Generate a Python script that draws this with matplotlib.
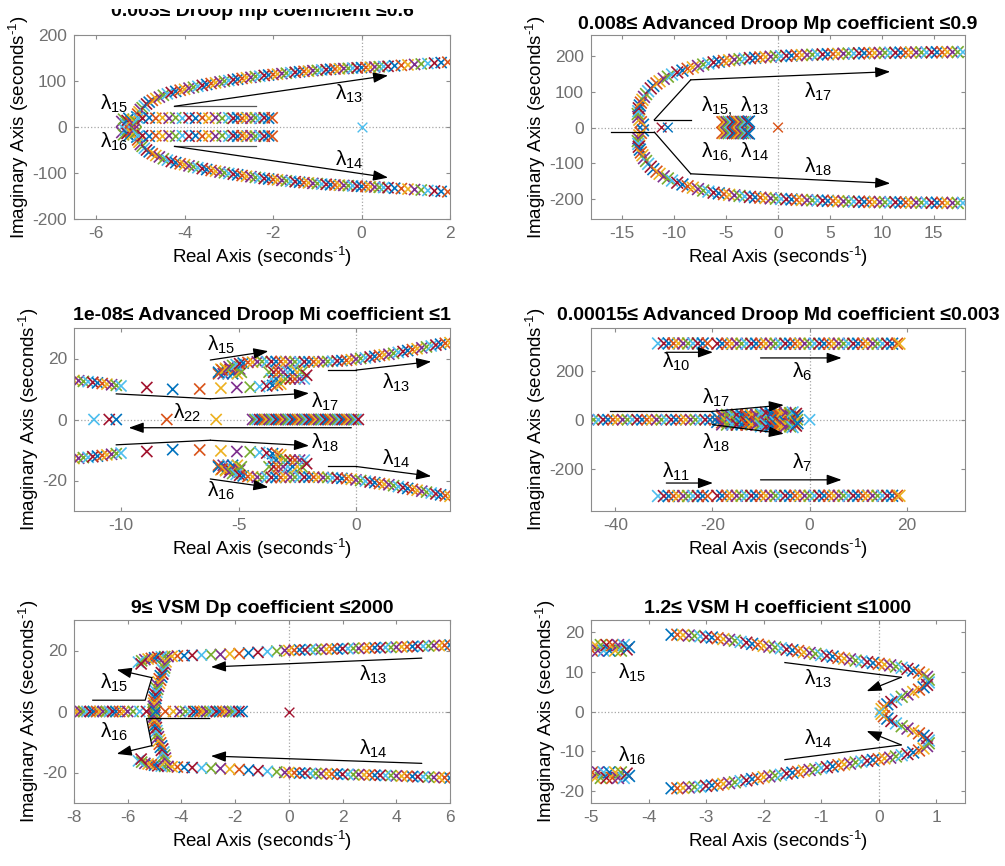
"""Root locus sweeps for droop / advanced droop / VSM controller coefficients"""

import numpy as np
import matplotlib
matplotlib.use('Agg')
import matplotlib.pyplot as plt
from matplotlib.patches import Rectangle

plt.rcParams['font.family'] = ['Liberation Sans', 'DejaVu Sans']
plt.rcParams['axes.unicode_minus'] = False
plt.rcParams['mathtext.fontset'] = 'custom'
plt.rcParams['mathtext.rm'] = 'Liberation Sans'
plt.rcParams['mathtext.it'] = 'Liberation Sans:italic'
plt.rcParams['mathtext.bf'] = 'Liberation Sans:bold'

# MATLAB default colour order, one colour per gain step
MCOL = ['#0072BD', '#D95319', '#EDB120', '#7E2F8E', '#77AC30', '#4DBEEE', '#A2142F']
TICK_GREY = '#707070'
EDGE_GREY = '#8c8c8c'

#####################################################################
#                 data (re, im)
#####################################################################

# ---- panel 1 : Droop mp
P1_L13 = [(-5.08, 22), (-5.06, 28), (-5.03, 33), (-5.0, 38), (-4.96, 42), (-4.91, 46), (-4.86, 50),
          (-4.8, 54), (-4.73, 58), (-4.65, 62), (-4.57, 65), (-4.48, 69), (-4.39, 72), (-4.3, 75),
          (-4.2, 77.5), (-4.1, 80), (-4.0, 82), (-3.9, 84.5), (-3.8, 86.5), (-3.7, 88.5), (-3.6, 90.5),
          (-3.5, 92.5), (-3.4, 94.5), (-3.3, 96), (-3.2, 98), (-3.1, 99.5), (-3.0, 101), (-2.9, 102.5),
          (-2.8, 104), (-2.7, 105.5), (-2.6, 107), (-2.5, 108), (-2.4, 109.5), (-2.3, 110.5), (-2.2, 112),
          (-2.1, 113), (-2.0, 114), (-1.9, 115), (-1.8, 116), (-1.7, 117), (-1.6, 118), (-1.5, 119),
          (-1.4, 120), (-1.3, 121), (-1.2, 121.5), (-1.1, 122.5), (-1.0, 123), (-0.9, 124), (-0.8, 124.5),
          (-0.7, 125.5), (-0.6, 126), (-0.5, 126.5), (-0.4, 127), (-0.3, 127.5), (-0.2, 128), (-0.1, 128.5),
          (0.0, 129), (0.1, 129.5), (0.2, 130), (0.3, 130.5), (0.4, 131), (0.5, 131.5), (0.6, 132),
          (0.75, 133), (0.9, 134), (1.05, 135), (1.2, 136), (1.35, 137), (1.5, 138), (1.65, 139),
          (1.8, 140), (1.95, 141)]
P1_L15 = [(-5.42, 12), (-5.38, 17), (-5.34, 7), (-5.3, 14), (-5.26, 19), (-5.22, 10), (-5.18, 16),
          (-5.14, 5), (-5.1, 12), (-5.05, 19), (-4.95, 19), (-4.8, 20), (-4.65, 19), (-4.5, 20),
          (-4.35, 19), (-4.2, 20), (-4.05, 19), (-3.9, 20), (-3.75, 19), (-3.6, 20), (-3.45, 19),
          (-3.3, 20), (-3.15, 19), (-3.0, 20), (-2.9, 19), (-2.8, 20), (-2.7, 19), (-2.6, 20),
          (-2.5, 19), (-2.4, 20), (-2.3, 19), (-2.2, 20), (-2.1, 19), (-2.02, 20)]
P1_ORIGIN = [(0.0, 0.0)]

# ---- panel 2 : Advanced droop Mp
P2_L17 = [(-13.0, 8), (-13.2, 15), (-13.35, 22), (-13.45, 30), (-13.5, 38), (-13.45, 46), (-13.4, 54),
          (-13.3, 62), (-13.2, 70), (-13.05, 78), (-12.9, 86), (-12.7, 94), (-12.5, 102), (-12.25, 110),
          (-12.0, 117), (-11.7, 124), (-11.4, 130), (-11.0, 137), (-10.6, 143), (-10.2, 149), (-9.7, 155),
          (-9.2, 160), (-8.7, 165), (-8.2, 169), (-7.7, 173), (-7.2, 177), (-6.7, 180), (-6.2, 183),
          (-5.7, 185), (-5.2, 187), (-4.7, 189), (-4.2, 190.5), (-3.7, 192), (-3.2, 193.5), (-2.7, 195),
          (-2.2, 196), (-1.7, 197), (-1.2, 198), (-0.7, 199), (-0.2, 200), (0.3, 200.5), (0.8, 201.5),
          (1.3, 202), (1.8, 203), (2.3, 203.5), (2.8, 204), (3.3, 204.5), (3.8, 205), (4.3, 205.5),
          (4.8, 206), (5.3, 206.5), (5.8, 207), (6.3, 207.5), (6.8, 208), (7.3, 208), (7.8, 208.5),
          (8.3, 209), (8.8, 209), (9.3, 209.5), (9.8, 209.5), (10.3, 210), (10.8, 210), (11.3, 210),
          (11.8, 210.5), (12.3, 210.5), (12.8, 211), (13.3, 211), (13.8, 211), (14.3, 211), (14.8, 211.5),
          (15.3, 211.5), (15.8, 211.5), (16.3, 212), (16.8, 212), (17.3, 212), (17.8, 212)]
P2_L15 = [(-5.35, 15), (-5.15, 16), (-4.95, 15), (-4.75, 16), (-4.55, 15), (-4.35, 16), (-4.15, 15),
          (-3.95, 16), (-3.75, 15), (-3.55, 16), (-3.35, 15), (-3.15, 16), (-2.95, 15), (-2.8, 17)]
P2_REAL = [(-11.2, 0.0), (-10.6, 0.0), (0.0, 0.0)]

# ---- panel 3 : Advanced droop Mi
P3_L13 = [(-5.85, 15.5), (-5.7, 16.2), (-5.55, 16.8), (-5.4, 17.3), (-5.25, 17.7), (-5.1, 18.0),
          (-4.95, 18.3), (-4.8, 18.5), (-4.6, 18.7), (-4.4, 18.8), (-4.2, 18.9), (-4.0, 19.0), (-3.8, 19.0),
          (-3.6, 19.0), (-3.4, 19.0), (-3.2, 19.0), (-3.0, 19.0), (-2.8, 18.9), (-2.6, 18.9), (-2.4, 18.9),
          (-2.2, 18.9), (-2.0, 18.9), (-1.8, 18.9), (-1.6, 18.9), (-1.4, 19.0), (-1.2, 19.0), (-1.0, 19.1),
          (-0.8, 19.2), (-0.6, 19.3), (-0.4, 19.4), (-0.2, 19.6), (0.0, 19.8), (0.2, 20.0), (0.4, 20.2),
          (0.6, 20.5), (0.8, 20.7), (1.0, 21.0), (1.2, 21.2), (1.4, 21.4), (1.6, 21.7), (1.8, 22.0),
          (2.0, 22.3), (2.2, 22.6), (2.4, 22.9), (2.6, 23.2), (2.8, 23.5), (3.0, 23.8), (3.2, 24.1),
          (3.4, 24.4), (3.6, 24.7), (3.8, 25.0), (4.0, 25.2)]
P3_L15 = [(-5.85, 15.0), (-5.75, 16.5), (-5.65, 15.0), (-5.55, 16.5), (-5.45, 15.0), (-5.35, 16.5),
          (-5.25, 15.0), (-5.15, 16.5), (-5.05, 15.0), (-4.95, 16.5), (-4.88, 15.5)]
P3_L17 = [(-12.0, 12.8), (-11.8, 12.7), (-11.6, 12.5), (-11.4, 12.4), (-11.2, 12.2), (-11.0, 12.0),
          (-10.8, 11.8), (-10.6, 11.6), (-10.4, 11.4), (-10.2, 11.2), (-10.0, 11.0),
          (-8.9, 10.5), (-7.8, 9.9), (-6.65, 10.0), (-5.75, 10.3), (-5.07, 10.5), (-4.5, 10.6),
          (-4.1, 10.8), (-3.8, 11.0), (-3.55, 11.2), (-3.35, 11.4), (-3.2, 11.6)]
P3_BLOCK = [(-3.7, 15.5), (-3.6, 13.3), (-3.5, 15.5), (-3.4, 13.3), (-3.3, 15.5), (-3.2, 13.3),
            (-3.1, 15.5), (-3.0, 13.3), (-2.9, 15.5), (-2.8, 13.3), (-2.7, 15.5), (-2.6, 13.3),
            (-2.5, 15.5), (-2.4, 13.3), (-2.3, 15.5), (-2.2, 13.3), (-2.1, 14.5)]
P3_AXIS_RE = [-11.15, -10.5, -10.2, -8.05, -5.95,
              -4.4, -4.3, -4.2, -4.1, -4.0, -3.9, -3.8, -3.7, -3.6, -3.5, -3.4, -3.3, -3.2, -3.1, -3.0,
              -2.9, -2.8, -2.7, -2.6, -2.5, -2.4, -2.3, -2.2, -2.1, -2.0, -1.9, -1.8, -1.7, -1.6, -1.5,
              -1.4, -1.3, -1.2, -1.1, -1.0, -0.9, -0.8, -0.7, -0.6, -0.5, -0.4, -0.3, -0.2, -0.1, 0.0, 0.1]

# ---- panel 4 : Advanced droop Md
P4_L10 = [(-31.2, 311), (-30, 311), (-29, 311), (-28, 311), (-27, 311), (-26, 311), (-25, 311),
          (-24, 311), (-23, 311), (-22, 311), (-21, 311)]
P4_L6_RE = [-19, -18, -17, -16, -15, -14, -13, -12, -11, -10, -9, -8, -7, -6, -5, -4, -3, -2, -1, 0,
            1, 2, 3, 4, 5, 6, 7, 8, 9, 10, 11, 12, 13, 14, 15, 16, 17, 18, 18.5]
P4_L6_IM = 310
P4_AXIS_RE = [-45.5, -44.5, -43.5, -42.5, -41.5, -40.5, -39.5, -38.5, -37.5, -36.5, -35.5, -34.5,
              -33.5, -32.5, -31.5, -30.5, -29.5, -28.5, -27.5, -26.5, -25.5, -24.5, -23.5, -22.5,
              -21.5, -20.5, -19.5, -18.5, -17.5, -16.5, -15.5, -14.5, -13.5, -12.5, -11.5, -10.5,
              -9.5, -8.5, -7.5, -6.5, -5.5, -4.5, -3.5, -2.5, 0.0]
P4_BLOB = [(-19, 9), (-18, 11), (-17, 9), (-16, 11), (-15, 9), (-14, 11), (-13, 9), (-12, 11), (-11, 9),
           (-10, 11), (-9, 9), (-8, 11), (-7, 9), (-6, 11), (-5, 9), (-4, 11), (-3, 9),
           (-18, 19), (-17, 20), (-16, 19), (-15, 20), (-14, 19), (-13, 20), (-12, 19), (-11, 20),
           (-10, 19), (-9, 20), (-8, 19), (-7, 20), (-6, 19), (-5, 20), (-4, 19), (-3, 20),
           (-10, 27), (-9, 28), (-8, 27), (-7, 28), (-6, 27), (-5, 28), (-4, 27), (-3.5, 30), (-2.8, 24),
           (-2.5, 14)]

# ---- panel 5 : VSM Dp
P5_L13 = [(6.0, 21.8), (5.8, 21.7), (5.6, 21.6), (5.4, 21.6), (5.2, 21.5), (5.0, 21.4), (4.8, 21.4),
          (4.6, 21.3), (4.4, 21.2), (4.2, 21.2), (4.0, 21.1), (3.8, 21.0), (3.6, 21.0), (3.4, 20.9),
          (3.2, 20.9), (3.0, 20.8), (2.8, 20.8), (2.6, 20.7), (2.4, 20.7), (2.2, 20.6), (2.0, 20.6),
          (1.8, 20.5), (1.6, 20.5), (1.4, 20.4), (1.2, 20.4), (1.0, 20.3), (0.8, 20.3), (0.6, 20.2),
          (0.4, 20.2), (0.2, 20.1), (0.0, 20.0), (-0.15, 20.0),
          (-0.45, 19.8), (-0.8, 19.6), (-1.15, 19.4), (-1.5, 19.2), (-1.85, 19.0), (-2.2, 18.9),
          (-2.55, 18.7), (-2.9, 18.6), (-3.25, 18.5), (-3.6, 18.4), (-3.9, 18.3), (-4.15, 18.2),
          (-4.35, 18.1), (-4.5, 18.0), (-4.62, 18.0), (-4.75, 17.9), (-4.88, 17.8), (-5.0, 17.6),
          (-5.12, 17.4), (-5.24, 17.2), (-5.36, 17.0), (-5.48, 16.6), (-5.6, 16.2), (-5.5, 15.6)]
P5_ARC = [(-4.6, 16.5), (-4.62, 15.5), (-4.65, 14.5), (-4.68, 13.5), (-4.72, 12.5), (-4.76, 11.5),
          (-4.8, 10.5), (-4.84, 9.5), (-4.88, 8.5), (-4.91, 7.5), (-4.94, 6.5), (-4.96, 5.5),
          (-4.98, 4.5), (-5.0, 3.5), (-5.01, 2.5), (-5.02, 1.5), (-5.03, 0.5)]
P5_AXIS_RE = [-8.0, -7.88, -7.76, -7.64, -7.52, -7.4, -7.28, -7.16, -7.04, -6.92, -6.8, -6.68, -6.56,
              -6.44, -6.3, -6.15, -6.0, -5.8, -5.55, -5.3, -4.95, -4.6, -4.3, -4.05, -3.85, -3.68,
              -3.54, -3.42, -3.3, -3.18, -3.06, -2.94, -2.82, -2.7, -2.58, -2.46, -2.34, -2.22, -2.1,
              -1.98, -1.86, -1.74]
P5_ORIGIN = [(0.0, 0.0)]

# ---- panel 6 : VSM H
P6_L15 = [(-4.98, 15.3), (-4.93, 16.7), (-4.88, 15.3), (-4.83, 16.7), (-4.78, 15.3), (-4.73, 16.7),
          (-4.68, 15.3), (-4.63, 16.7), (-4.58, 15.3), (-4.53, 16.7), (-4.48, 15.3), (-4.43, 16.7),
          (-4.38, 15.6), (-4.34, 16.2)]
P6_L13 = [(-3.6, 19.3), (-3.5, 19.3), (-3.4, 19.2), (-3.3, 19.1), (-3.2, 19.0), (-3.1, 18.9), (-3.0, 18.7),
          (-2.9, 18.6), (-2.8, 18.4), (-2.7, 18.2), (-2.6, 18.0), (-2.5, 17.8), (-2.4, 17.5), (-2.3, 17.3),
          (-2.2, 17.0), (-2.1, 16.8), (-2.0, 16.5), (-1.9, 16.3), (-1.8, 16.1), (-1.7, 15.9), (-1.6, 15.6),
          (-1.5, 15.4), (-1.4, 15.2), (-1.3, 14.9), (-1.2, 14.7), (-1.1, 14.5), (-1.0, 14.2), (-0.9, 14.0),
          (-0.8, 13.8), (-0.7, 13.5), (-0.6, 13.3), (-0.5, 13.1), (-0.4, 12.8), (-0.3, 12.6), (-0.2, 12.4),
          (-0.1, 12.2), (0.0, 12.0), (0.1, 11.8), (0.2, 11.6), (0.3, 11.3), (0.4, 11.0), (0.5, 10.7),
          (0.6, 10.3), (0.7, 9.8), (0.78, 9.3), (0.84, 8.7), (0.87, 8.0), (0.87, 7.3), (0.84, 6.7),
          (0.78, 6.1), (0.7, 5.5), (0.6, 4.9), (0.5, 4.3), (0.4, 3.7), (0.3, 3.0), (0.22, 2.4),
          (0.15, 1.8), (0.09, 1.2), (0.05, 0.6)]
P6_ORIGIN = [(0.0, 0.0)]


#####################################################################
#                 helpers
#####################################################################

def locus(ax, pts, conj=True, ms=8, start=0, lw=1.2):
    pts = np.asarray(pts, dtype=float)
    cols = [MCOL[(start + i) % len(MCOL)] for i in range(len(pts))]
    ax.scatter(pts[:, 0], pts[:, 1], c=cols, marker='x', s=ms**2, linewidths=lw, zorder=2)
    if conj:
        ax.scatter(pts[:, 0], -pts[:, 1], c=cols, marker='x', s=ms**2, linewidths=lw, zorder=2)


def on_axis(re_vals):
    return [(r, 0.0) for r in re_vals]


def arrow(ax, path):
    """path: polyline, arrow head on the last segment"""
    xs = [p[0] for p in path]
    ys = [p[1] for p in path]
    if len(path) > 2:
        ax.plot(xs[:-1], ys[:-1], color='k', lw=0.9, zorder=4)
    ax.annotate('', xy=path[-1], xytext=path[-2],
                arrowprops=dict(arrowstyle='-|>,head_length=0.9,head_width=0.32',
                                color='k', lw=0.9, shrinkA=0, shrinkB=0), zorder=4)


def seg(ax, path, color='#303030'):
    ax.plot([p[0] for p in path], [p[1] for p in path], color=color, lw=0.9, zorder=4)


def lam(ax, sub, x, y):
    ax.text(x, y, r'$\mathrm{\lambda}_{%s}$' % sub, ha='center', va='center', fontsize=15, zorder=5)


W, H = 1005, 866
fig = plt.figure(figsize=(W / 100, H / 100), dpi=100)


def make_axes(l, t, r, b, title, xlim, ylim, xt, yt, pad=4):
    ax = fig.add_axes([l / W, 1 - b / H, (r - l) / W, (b - t) / H])
    ax.set_xlim(*xlim)
    ax.set_ylim(*ylim)
    ax.set_xticks(xt)
    ax.set_yticks(yt)
    ax.tick_params(direction='in', length=3, top=True, right=True, labelsize=12.5,
                   colors=EDGE_GREY, labelcolor=TICK_GREY, pad=5)
    for s in ax.spines.values():
        s.set_color(EDGE_GREY)
        s.set_linewidth(0.8)
    ax.axhline(0, color='#a6a6a6', ls=':', lw=0.9, zorder=1)
    ax.axvline(0, color='#a6a6a6', ls=':', lw=0.9, zorder=1)
    ax.set_xlabel(r'Real Axis (seconds$^{\text{-1}}$)', fontsize=13.5, labelpad=3)
    ax.set_ylabel(r'Imaginary Axis (seconds$^{\text{-1}}$)', fontsize=13.5, labelpad=1)
    ax.set_title(title, fontsize=14, fontweight='bold', pad=pad)
    return ax


#####################################################################
#                 panel 1
#####################################################################
ax = make_axes(74, 35, 450, 219, '0.003\u2264 Droop mp coefficient \u22640.6',
               (-6.5, 2), (-200, 200), [-6, -4, -2, 0, 2], [-200, -100, 0, 100, 200], pad=14)
locus(ax, P1_L13)
locus(ax, P1_L15, start=3)
locus(ax, P1_ORIGIN, conj=False, start=5, ms=7, lw=1)
seg(ax, [(-4.23, 45), (-2.38, 45)], color='#555555')
seg(ax, [(-4.23, -42), (-2.38, -42)], color='#555555')
arrow(ax, [(-4.23, 45), (0.6, 112)])
arrow(ax, [(-4.23, -42), (0.6, -110)])
lam(ax, '15', -5.6, 50)
lam(ax, '16', -5.6, -33)
lam(ax, '13', -0.27, 72)
lam(ax, '14', -0.27, -72)

#####################################################################
#                 panel 2
#####################################################################
ax = make_axes(591, 35, 965, 219, '0.008\u2264 Advanced Droop Mp coefficient \u22640.9',
               (-18, 18), (-257, 260), [-15, -10, -5, 0, 5, 10, 15], [-200, -100, 0, 100, 200])
locus(ax, P2_L17, ms=8.5)
locus(ax, P2_L15, ms=8.5, start=1)
locus(ax, P2_REAL, conj=False, ms=7, start=6, lw=1)
seg(ax, [(-16.1, -13), (-11.9, -13)], color='k')
seg(ax, [(-11.9, 22), (-8.4, 22)], color='k')
arrow(ax, [(-11.9, 22), (-8.4, 134), (10.8, 157)])
arrow(ax, [(-11.9, -13), (-8.4, -130), (10.8, -157)])
lam(ax, '17', 3.9, 101)
lam(ax, '18', 3.9, -110)
ax.text(-4.1, 59, r'$\mathrm{\lambda}_{15,}\ \mathrm{\lambda}_{13}$', ha='center', va='center',
        fontsize=15, zorder=5)
ax.text(-4.1, -72, r'$\mathrm{\lambda}_{16,}\ \mathrm{\lambda}_{14}$', ha='center', va='center',
        fontsize=15, zorder=5)

#####################################################################
#                 panel 3
#####################################################################
ax = make_axes(74, 328, 450, 511, '1e-08\u2264 Advanced Droop Mi coefficient \u22641',
               (-12, 4), (-30, 30), [-10, -5, 0], [-20, 0, 20], pad=6)
locus(ax, P3_L17, start=2)
locus(ax, P3_BLOCK, start=4)
locus(ax, P3_L15, start=1)
locus(ax, P3_L13)
locus(ax, on_axis(P3_AXIS_RE), conj=False, start=5)
arrow(ax, [(-6.2, 19.5), (-3.73, 22.4)])
arrow(ax, [(-1.2, 16.2), (0.0, 16.2), (3.2, 19.0)])
arrow(ax, [(-10.2, 8.4), (-6.2, 6.8), (-2.0, 8.6)])
arrow(ax, [(-0.2, -2.7), (-9.67, -2.7)])
arrow(ax, [(-10.2, -8.3), (-6.2, -6.8), (-2.0, -8.6)])
arrow(ax, [(-1.2, -15.4), (0.0, -15.4), (3.2, -18.6)])
arrow(ax, [(-6.2, -19.5), (-3.73, -22.2)])
lam(ax, '15', -5.75, 24.6)
lam(ax, '13', 1.7, 11.9)
lam(ax, '17', -1.3, 5.7)
lam(ax, '22', -7.2, 2.2)
lam(ax, '18', -1.3, -7.5)
lam(ax, '14', 1.7, -13)
lam(ax, '16', -5.75, -23.5)

#####################################################################
#                 panel 4
#####################################################################
ax = make_axes(591, 328, 965, 511, '0.00015\u2264 Advanced Droop Md coefficient \u22640.003',
               (-45, 32), (-372, 374), [-40, -20, 0, 20], [-200, 0, 200], pad=6)
locus(ax, P4_L10, ms=8.5, start=5)
locus(ax, [(r, P4_L6_IM) for r in P4_L6_RE], ms=8.5, start=6)
locus(ax, on_axis(P4_AXIS_RE), conj=False, start=3)
locus(ax, P4_BLOB, ms=8.5)
arrow(ax, [(-29.5, 275), (-19.9, 275)])
arrow(ax, [(-10.1, 252), (6.6, 252)])
arrow(ax, [(-41, 34), (-20, 34), (-5.3, 60)])
arrow(ax, [(-20, -20), (-5.3, -57)])
arrow(ax, [(-29.5, -258), (-19.9, -258)])
arrow(ax, [(-10.1, -245), (6.6, -245)])
lam(ax, '10', -27.4, 238)
lam(ax, '6', -1.5, 197)
lam(ax, '17', -19.2, 88)
lam(ax, '18', -19.2, -95)
lam(ax, '11', -27.4, -211)
lam(ax, '7', -1.5, -177)

#####################################################################
#                 panel 5
#####################################################################
ax = make_axes(74, 620, 450, 803, '9\u2264 VSM Dp coefficient \u22642000',
               (-8, 6), (-30, 30), [-8, -6, -4, -2, 0, 2, 4, 6], [-20, 0, 20], pad=5)
locus(ax, P5_L13)
locus(ax, P5_ARC, ms=9, start=2)
locus(ax, on_axis(P5_AXIS_RE), conj=False, start=1)
locus(ax, P5_ORIGIN, conj=False, start=6, ms=7, lw=1)
arrow(ax, [(4.95, 17.5), (-2.9, 14.6)])
arrow(ax, [(4.95, -17.0), (-2.9, -14.6)])
arrow(ax, [(-7.3, 3.7), (-5.35, 3.7), (-5.1, 11.1), (-6.41, 13.7)])
arrow(ax, [(-2.95, -2.3), (-5.3, -2.3), (-5.1, -11.2), (-6.41, -13.9)])
lam(ax, '15', -6.5, 9.4)
lam(ax, '16', -6.5, -6.8)
lam(ax, '13', 3.15, 12.1)
lam(ax, '14', 3.15, -12.2)

#####################################################################
#                 panel 6
#####################################################################
ax = make_axes(591, 620, 965, 803, '1.2\u2264 VSM H coefficient \u22641000',
               (-5, 1.5), (-23, 23), [-5, -4, -3, -2, -1, 0, 1], [-20, -10, 0, 10, 20], pad=5)
locus(ax, P6_L15, ms=8.5, start=1)
locus(ax, P6_L13, ms=8.5)
locus(ax, P6_ORIGIN, conj=False, start=5, ms=7, lw=1)
arrow(ax, [(-1.63, 12.3), (0.39, 8.6), (-0.21, 5.1)])
arrow(ax, [(-1.63, -12.1), (0.39, -8.4), (-0.21, -4.9)])
lam(ax, '15', -4.29, 9.8)
lam(ax, '16', -4.29, -11.1)
lam(ax, '13', -1.05, 8.1)
lam(ax, '14', -1.05, -6.8)

# the source figure is cropped just through the first title
fig.add_artist(Rectangle((0, 1 - 9 / H), 0.5, 9 / H, transform=fig.transFigure,
                         facecolor='white', edgecolor='none', zorder=10))

fig.savefig('out.png', dpi=100)
